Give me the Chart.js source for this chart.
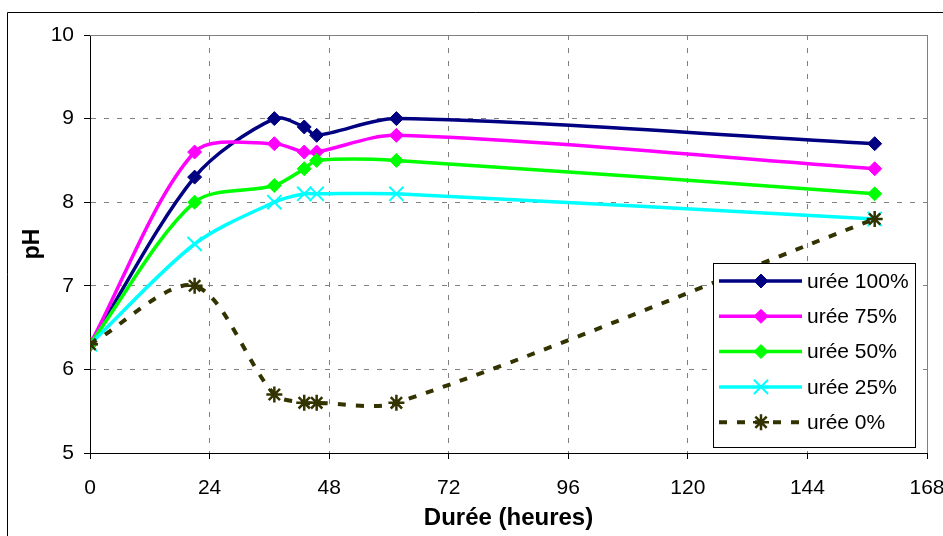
<!DOCTYPE html>
<html>
<head>
<meta charset="utf-8">
<title>pH - urée</title>
<script src="https://cdn.jsdelivr.net/npm/chart.js@4/dist/chart.umd.min.js"></script>
<style>
  html, body { margin: 0; padding: 0; background: #fff; }
  #wrap { width: 943px; height: 536px; overflow: hidden; }
</style>
</head>
<body>
<div id="wrap"><canvas id="phChart" width="943" height="536"></canvas></div>
<script>
// Durées de prélèvement (heures) et pH mesurés
const hours = [0, 21, 37, 43, 45.5, 61.5, 157.5];
const ph100 = [6.3, 8.3, 9.0, 8.9, 8.8, 9.0, 8.7];
const ph75 = [6.3, 8.6, 8.7, 8.6, 8.6, 8.8, 8.4];
const ph50 = [6.3, 8.0, 8.2, 8.4, 8.5, 8.5, 8.1];
const ph25 = [6.3, 7.5, 8.0, 8.1, 8.1, 8.1, 7.8];
const ph0 = [6.3, 7.0, 5.7, 5.6, 5.6, 5.6, 7.8];
const seriesNames = ['urée 100%', 'urée 75%', 'urée 50%', 'urée 25%', 'urée 0%'];
const xTicks = [0, 24, 48, 72, 96, 120, 144, 168];
const yTicks = [5, 6, 7, 8, 9, 10];

const FONT = "'Liberation Sans', Arial, sans-serif";

function pts(values) {
  return hours.map((h, i) => ({ x: h, y: values[i] }));
}

function serie(i, values, color, style, radius, extra) {
  return Object.assign({
    label: seriesNames[i],
    data: pts(values),
    borderColor: color,
    backgroundColor: color,
    borderWidth: 3.5,
    tension: 0.3,
    pointStyle: style,
    pointRadius: radius,
    pointHoverRadius: radius,
    pointBackgroundColor: color,
    pointBorderColor: color,
    pointBorderWidth: 1,
    order: 5 - i
  }, extra || {});
}

// cadre extérieur + bords haut/droite de la zone de tracé
const frame = {
  id: 'frame',
  beforeDatasetsDraw(chart) {
    const { ctx, chartArea: a } = chart;
    ctx.save();
    ctx.strokeStyle = '#808080';
    ctx.lineWidth = 1;
    ctx.beginPath();
    ctx.moveTo(a.left, Math.round(a.top) + 0.5);
    ctx.lineTo(Math.round(a.right) + 0.5, Math.round(a.top) + 0.5);
    ctx.lineTo(Math.round(a.right) + 0.5, a.bottom);
    ctx.stroke();
    ctx.restore();
  },
  afterDraw(chart) {
    const ctx = chart.ctx;
    ctx.save();
    ctx.strokeStyle = '#000';
    ctx.lineWidth = 1;
    ctx.beginPath();
    ctx.moveTo(7.5, chart.height);
    ctx.lineTo(7.5, 12.5);
    ctx.lineTo(chart.width, 12.5);
    ctx.stroke();
    ctx.restore();
  }
};

// légende encadrée dans la zone de tracé
const legendBox = {
  id: 'legendBox',
  afterDatasetsDraw(chart) {
    const ctx = chart.ctx;
    const x0 = 713, y0 = 263, w = 202, h = 184;
    ctx.save();
    ctx.fillStyle = '#fff';
    ctx.fillRect(x0, y0, w, h);
    ctx.strokeStyle = '#000';
    ctx.lineWidth = 1;
    ctx.strokeRect(x0 + 0.5, y0 + 0.5, w, h);
    chart.data.datasets.forEach((ds, i) => {
      const y = y0 + 18 + i * 35.3;
      ctx.strokeStyle = ds.borderColor;
      ctx.lineWidth = ds.borderWidth;
      ctx.setLineDash(ds.borderDash || []);
      ctx.beginPath();
      ctx.moveTo(719, y);
      ctx.lineTo(802, y);
      ctx.stroke();
      ctx.setLineDash([]);
      ctx.fillStyle = ds.pointBackgroundColor;
      ctx.strokeStyle = ds.pointBorderColor;
      ctx.lineWidth = ds.pointBorderWidth;
      Chart.helpers.drawPoint(ctx, {
        pointStyle: ds.pointStyle,
        radius: ds.pointRadius,
        rotation: 0,
        borderWidth: ds.pointBorderWidth
      }, 761, y);
      ctx.fillStyle = '#000';
      ctx.font = '21px ' + FONT;
      ctx.textBaseline = 'middle';
      ctx.textAlign = 'left';
      ctx.fillText(ds.label, 807, y + 1);
    });
    ctx.restore();
  }
};

new Chart(document.getElementById('phChart'), {
  type: 'line',
  data: {
    datasets: [
      serie(0, ph100, '#000080', 'rectRot', 7),
      serie(1, ph75, '#ff00ff', 'rectRot', 7),
      serie(2, ph50, '#00ff00', 'rectRot', 7),
      serie(3, ph25, '#00ffff', 'crossRot', 10, { pointBorderWidth: 2 }),
      serie(4, ph0, '#333300', 'star', 8, { pointBorderWidth: 2.5, borderDash: [8, 10], borderWidth: 4 })
    ]
  },
  options: {
    responsive: false,
    animation: false,
    devicePixelRatio: 1,
    layout: { padding: { top: 35, right: 16, left: 0, bottom: 0 } },
    plugins: {
      legend: { display: false },
      tooltip: { enabled: false }
    },
    scales: {
      x: {
        type: 'linear',
        min: 0,
        max: 168,
        afterBuildTicks: s => { s.ticks = xTicks.map(v => ({ value: v })); },
        afterFit: s => { s.height = 83; s.paddingLeft = 0; s.paddingRight = 0; },
        ticks: { color: '#000', font: { family: FONT, size: 21 }, padding: 17, maxRotation: 0, autoSkip: false },
        grid: { color: '#808080', lineWidth: 1, tickLength: 6, tickColor: '#000', tickBorderDash: [] },
        border: { display: true, color: '#000', width: 1, dash: [5, 8] },
        title: {
          display: true,
          text: 'Durée (heures)',
          color: '#000',
          font: { family: FONT, size: 24, weight: 'bold' },
          padding: { top: 0, bottom: 3 }
        }
      },
      y: {
        min: 5,
        max: 10,
        afterBuildTicks: s => { s.ticks = yTicks.map(v => ({ value: v })); },
        afterFit: s => { s.width = 90; s.paddingTop = 0; s.paddingBottom = 0; },
        ticks: { color: '#000', font: { family: FONT, size: 21 }, padding: 10 },
        grid: { color: '#808080', lineWidth: 1, tickLength: 6, tickColor: '#000', tickBorderDash: [] },
        border: { display: true, color: '#000', width: 1, dash: [5, 8] },
        title: {
          display: true,
          text: 'pH',
          color: '#000',
          font: { family: FONT, size: 23, weight: 'bold' },
          padding: { top: 19, bottom: 0 }
        }
      }
    }
  },
  plugins: [frame, legendBox]
});
</script>
</body>
</html>
